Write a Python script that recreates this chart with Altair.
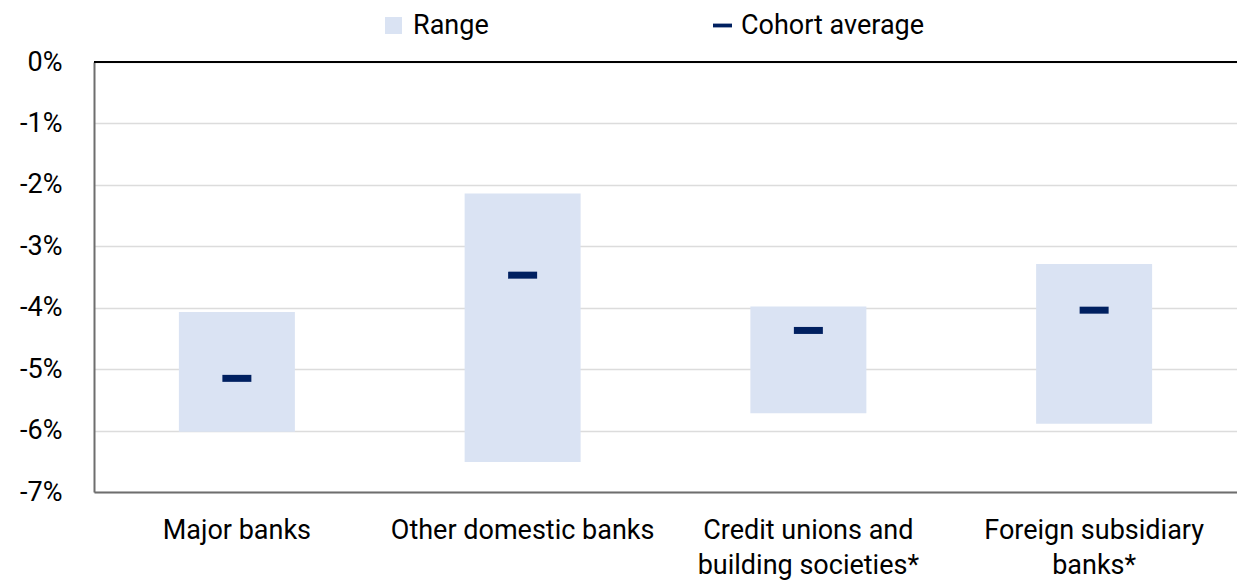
import altair as alt
import pandas as pd

categories = ["Major banks", "Other domestic banks",
              "Credit unions and building societies*", "Foreign subsidiary banks*"]
range_high = [-0.0407, -0.0214, -0.0398, -0.0329]
range_low = [-0.0602, -0.0651, -0.0572, -0.0589]
cohort_avg = [-0.0515, -0.0347, -0.0437, -0.0404]

df = pd.DataFrame({
    "cat": categories,
    "high": range_high,
    "low": range_low,
    "avg": cohort_avg,
    "s_range": ["Range"] * 4,
    "s_avg": ["Cohort average"] * 4,
})

FONT = "Roboto"
RANGE_COL = "#DAE3F3"
AVG_COL = "#002060"
AXIS_GRAY = "#6E6E6E"

label_expr = (
    "datum.label == 'Credit unions and building societies*' ? ['Credit unions and', 'building societies*'] : "
    "datum.label == 'Foreign subsidiary banks*' ? ['Foreign subsidiary', 'banks*'] : datum.label"
)

x_enc = alt.X(
    "cat:N", sort=categories, title=None,
    scale=alt.Scale(paddingInner=0, paddingOuter=0),
    axis=alt.Axis(labelAngle=0, labelExpr=label_expr, labelFontSize=27, labelColor="#000000",
                  labelPadding=25, labelLineHeight=35, ticks=False,
                  domainColor=AXIS_GRAY, domainWidth=2, grid=False, labelLimit=400),
)
y_scale = alt.Scale(domain=[-0.07, 0], nice=False, zero=False)
y_axis = alt.Axis(format=".0%", values=[0, -0.01, -0.02, -0.03, -0.04, -0.05, -0.06, -0.07],
                  labelExpr="replace(datum.label, '\u2212', '-')",
                  labelFontSize=27, labelColor="#000000", labelPadding=32, ticks=False,
                  domainColor=AXIS_GRAY, domainWidth=2, gridColor="#DCDCDC", gridWidth=1.3)

bars = alt.Chart(df).mark_bar(width=116).encode(
    x=x_enc,
    y=alt.Y("high:Q", scale=y_scale, axis=y_axis, title=None),
    y2="low:Q",
    color=alt.Color("s_range:N", scale=alt.Scale(domain=["Range"], range=[RANGE_COL]),
                    legend=alt.Legend(title=None, orient="none", legendX=286, legendY=-50,
                                      symbolType="square", symbolSize=289, symbolOpacity=1,
                                      symbolStrokeWidth=0, labelLimit=400,
                                      labelFontSize=27, labelColor="#000000", labelOffset=6,
                                      padding=0)),
)

ticks = alt.Chart(df).mark_tick(thickness=7, size=29, opacity=1).encode(
    x=alt.X("cat:N", sort=categories),
    y=alt.Y("avg:Q", scale=y_scale),
    color=alt.Color("s_avg:N", scale=alt.Scale(domain=["Cohort average"], range=[AVG_COL]),
                    legend=alt.Legend(title=None, orient="none", legendX=615, legendY=-50,
                                      symbolType="M-1,-0.2H1V0.2H-1Z", symbolSize=361,
                                      symbolFillColor=AVG_COL, symbolStrokeWidth=0, symbolOpacity=1,
                                      labelLimit=400,
                                      labelFontSize=27, labelColor="#000000", labelOffset=5,
                                      padding=0)),
)

zero_line = alt.Chart(df).mark_rule(color="#000000", strokeWidth=2).encode(
    y=alt.datum(0, type="quantitative", scale=y_scale)
)

chart = alt.layer(bars, ticks, zero_line).resolve_scale(color="independent").properties(
    width=1143, height=430,
    autosize=alt.AutoSizeParams(type="none"),
    padding={"left": 86, "top": 54, "right": 0, "bottom": 92},
).configure(font=FONT).configure_view(stroke=None)

chart.save("out.html", embed_options={"renderer": "svg", "actions": False})
